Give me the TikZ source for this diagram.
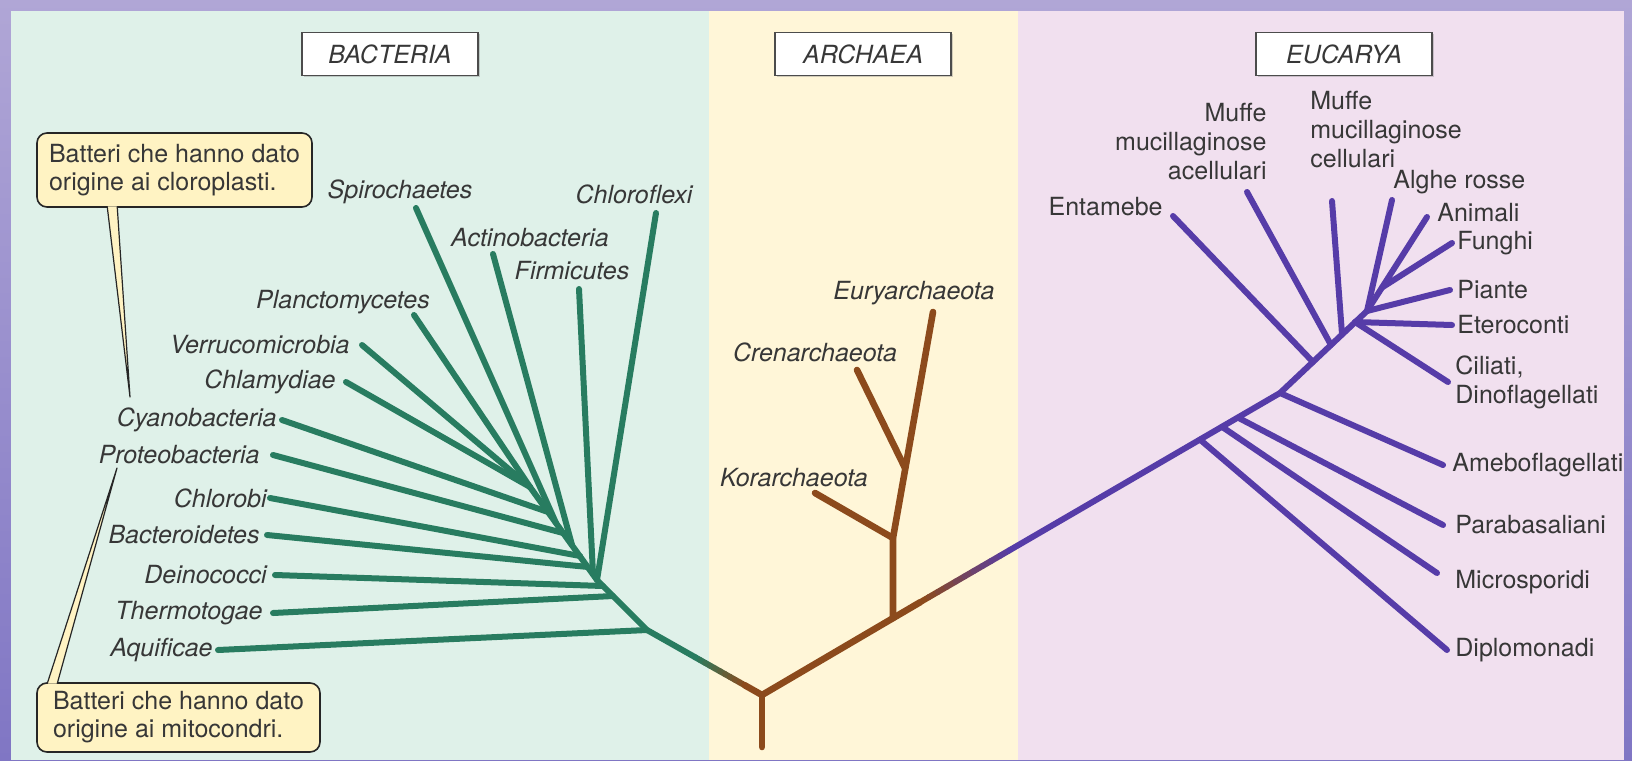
\documentclass[tikz,border=0pt]{standalone}
\usepackage{fontspec}
\setmainfont{TeX Gyre Heros}
\usetikzlibrary{positioning,calc,shadows}

\definecolor{bactgreen}{RGB}{40,124,96}
\definecolor{archbrown}{RGB}{140,74,28}
\definecolor{eucpurple}{RGB}{86,60,168}
\definecolor{bgframe}{RGB}{128,118,196}
\definecolor{bgframelight}{RGB}{176,166,214}
\definecolor{bactpanel}{RGB}{223,241,233}
\definecolor{archpanel}{RGB}{255,246,216}
\definecolor{eucpanel}{RGB}{241,224,239}
\definecolor{notefill}{RGB}{255,243,195}
\definecolor{labgray}{RGB}{55,55,55}

\tikzset{
  branch/.style={line width=3pt, line cap=round, line join=round},
  bact/.style={branch, draw=bactgreen},
  arch/.style={branch, draw=archbrown, line width=3.3pt},
  euc/.style={branch, draw=eucpurple},
  taxon/.style={inner sep=0pt, text=labgray, font=\fontsize{12.5}{15}\selectfont\itshape},
  group/.style={inner sep=0pt, text=labgray, font=\fontsize{12.5}{14.5}\selectfont},
  domainbox/.style={draw=black!70, fill=white, line width=0.9pt, minimum width=88pt, minimum height=21.5pt,
    text=labgray, font=\fontsize{12.5}{15}\selectfont\itshape,
    drop shadow={shadow xshift=0.8pt, shadow yshift=-0.8pt, opacity=0.35}},
  note/.style={draw=black!85, fill=notefill, line width=0.8pt, rounded corners=5pt, align=left,
    inner xsep=5pt, text=labgray, font=\fontsize{12.5}{14}\selectfont},
  pointer/.style={draw=black!85, line width=0.6pt, line join=round},
}

\begin{document}
\begin{tikzpicture}[x=0.5pt, y=-0.5pt]
\useasboundingbox (0,0) rectangle (1632,760);
% sfondo e pannelli dei tre domini
\shade[top color=bgframelight, bottom color=bgframe] (0,0) rectangle (1632,760);
\fill[bactpanel] (11,11) rectangle (709,760);
\fill[archpanel] (709,11) rectangle (1018,760);
\fill[eucpanel] (1018,11) rectangle (1624,760);

\node[domainbox] (bacteria) at (390,54) {BACTERIA};
\node[domainbox] (archaea) at (863,54) {ARCHAEA};
\node[domainbox] (eucarya) at (1344,54) {EUCARYA};

% radice e nodi interni
\coordinate (base) at (762,747);
\coordinate (r) at (762,695);
\coordinate (b0) at (530,487);
\coordinate (bCy) at (548,512);
\coordinate (bSp) at (556,523);
\coordinate (bPr) at (563,533);
\coordinate (bAc) at (572,545);
\coordinate (bCb) at (580,556);
\coordinate (bBa) at (588,567);
\coordinate (bFi) at (593,574);
\coordinate (bCf) at (597,580);
\coordinate (bDe) at (603,586);
\coordinate (bTh) at (613,596);
\coordinate (bAq) at (647,630);
\coordinate (a0) at (893,618);
\coordinate (a1) at (893,538);
\coordinate (a2) at (905,468);
\coordinate (e1) at (1200,439.6);
\coordinate (e2) at (1222,426.8);
\coordinate (e3) at (1238,417.6);
\coordinate (e4) at (1280,393);
\coordinate (e5) at (1313,362);
\coordinate (e6) at (1331,345);
\coordinate (e7) at (1342,334);
\coordinate (e8) at (1355,322);
\coordinate (e9) at (1367,311);

% estremi dei rami
\coordinate (tAqui) at (218,650);
\coordinate (tTherm) at (273,613);
\coordinate (tDeino) at (275,575);
\coordinate (tBacte) at (267,535);
\coordinate (tChlorobi) at (270,498);
\coordinate (tProteo) at (273,455);
\coordinate (tCyano) at (282,420);
\coordinate (tChlamy) at (346,382);
\coordinate (tVerru) at (362,345);
\coordinate (tPlancto) at (414,315);
\coordinate (tSpiro) at (416,208);
\coordinate (tActino) at (493,254);
\coordinate (tFirmi) at (579,289);
\coordinate (tChlorofl) at (656,213);
\coordinate (tEury) at (933,312);
\coordinate (tCren) at (857,370);
\coordinate (tKor) at (815,493);
\coordinate (tEntam) at (1173,216);
\coordinate (tMacell) at (1247,192);
\coordinate (tMcell) at (1332,201);
\coordinate (tAlghe) at (1392,200);
\coordinate (tAnim) at (1427,217);
\coordinate (tFunghi) at (1452,243);
\coordinate (tPiante) at (1450,290);
\coordinate (tEtero) at (1452,325);
\coordinate (tCiliati) at (1448,382);
\coordinate (tAmebo) at (1443,465);
\coordinate (tPara) at (1443,525);
\coordinate (tMicro) at (1437,573);
\coordinate (tDiplo) at (1447,650);
\coordinate (fA) at ($(tAnim)!0.75!(e9)$);

% Bacteria
\draw[bact] (b0) -- (bCf) -- (bAq) -- ($(bAq)!0.42!(r)$);
\foreach \t/\j in {tAqui/bAq, tTherm/bTh, tDeino/bDe, tBacte/bBa, tChlorobi/bCb, tProteo/bPr,
    tCyano/bCy, tChlamy/b0, tVerru/b0, tPlancto/b0, tSpiro/bSp, tActino/bAc, tFirmi/bFi, tChlorofl/bCf}
  \draw[bact] (\t) -- (\j);
% passaggio di colore verde -> marrone
\foreach \k in {0,...,9}{
  \pgfmathsetmacro{\ta}{0.42+\k*0.043}
  \pgfmathsetmacro{\tb}{0.42+(\k+1)*0.043}
  \pgfmathtruncatemacro{\pct}{100-\k*10}
  \draw[branch, draw=bactgreen!\pct!archbrown] ($(bAq)!\ta!(r)$) -- ($(bAq)!\tb!(r)$);
}

% Archaea
\draw[arch] ($(bAq)!0.85!(r)$) -- (r) -- ($(a0)!0.07!(e4)$);
\draw[arch] (base) -- (r);
\draw[arch] (a0) -- (a1) -- (tEury);
\draw[arch] (a1) -- (tKor);
\draw[arch] (a2) -- (tCren);
% passaggio di colore marrone -> viola
\foreach \k in {0,...,9}{
  \pgfmathsetmacro{\ta}{0.07+\k*0.023}
  \pgfmathsetmacro{\tb}{0.07+(\k+1)*0.023}
  \pgfmathtruncatemacro{\pct}{100-\k*10}
  \draw[branch, draw=archbrown!\pct!eucpurple] ($(a0)!\ta!(e4)$) -- ($(a0)!\tb!(e4)$);
}

% Eucarya
\draw[euc] ($(a0)!0.30!(e4)$) -- (e4) -- (e9);
\foreach \t/\j in {tDiplo/e1, tMicro/e2, tPara/e3, tAmebo/e4, tEntam/e5, tMacell/e6, tMcell/e7,
    tEtero/e8, tCiliati/e8, tPiante/e9, tAnim/e9, tAlghe/e9, tFunghi/fA}
  \draw[euc] (\t) -- (\j);

% etichette
\node[taxon, left=2.5pt of tAqui] (lAqui) {Aquificae};
\node[taxon, left=5pt of tTherm] (lTherm) {Thermotogae};
\node[taxon, left=4pt of tDeino] (lDeino) {Deinococci};
\node[taxon, left=3.5pt of tBacte] (lBacte) {Bacteroidetes};
\node[taxon, left=1.5pt of tChlorobi] (lChlorobi) {Chlorobi};
\node[taxon, left=6.5pt of tProteo] (lProteo) {Proteobacteria};
\node[taxon, left=2.5pt of tCyano] (lCyano) {Cyanobacteria};
\node[taxon, left=5pt of tChlamy] (lChlamy) {Chlamydiae};
\node[taxon, left=6pt of tVerru] (lVerru) {Verrucomicrobia};
\node[taxon] (lPlancto) at (343,302) {Planctomycetes};
\node[taxon] (lSpiro) at (400,192) {Spirochaetes};
\node[taxon] (lActino) at (530,238) {Actinobacteria};
\node[taxon] (lFirmi) at (572,271) {Firmicutes};
\node[taxon] (lChlorofl) at (634,194) {Chloroflexi};

\node[taxon] (lEury) at (914,293) {Euryarchaeota};
\node[taxon] (lCren) at (815,352) {Crenarchaeota};
\node[taxon] (lKor) at (794,478) {Korarchaeota};

\node[group, anchor=east] (lEntam) at (1163,207) {Entamebe};
\node[group, anchor=east, align=right] (lMacell) at (1267,142) {Muffe\\mucillaginose\\acellulari};
\node[group, anchor=west, align=left] (lMcell) at (1310,130) {Muffe\\mucillaginose\\cellulari};
\node[group, anchor=west] (lAlghe) at (1393,182) {Alghe rosse};
\node[group, anchor=west] (lAnim) at (1437,213) {Animali};
\node[group, right=2.5pt of tFunghi] (lFunghi) {Funghi};
\node[group, right=3.5pt of tPiante] (lPiante) {Piante};
\node[group, right=2.5pt of tEtero] (lEtero) {Eteroconti};
\node[group, align=left, right=3.5pt of tCiliati] (lCiliati) {Ciliati,\\Dinoflagellati};
\node[group, right=4.5pt of tAmebo] (lAmebo) {Ameboflagellati};
\node[group, right=6pt of tPara] (lPara) {Parabasaliani};
\node[group, anchor=west] (lMicro) at (1455,582) {Microsporidi};
\node[group, right=4pt of tDiplo] (lDiplo) {Diplomonadi};

% riquadri con le note
\node[note, minimum width=137.5pt, minimum height=37pt] (cloro) at (174.5,170)
  {Batteri che hanno dato\\origine ai cloroplasti.};
\node[note, minimum width=141.5pt, minimum height=34.5pt] (mito) at (178.5,717.5)
  {Batteri che hanno dato\\origine ai mitocondri.};
\coordinate (pCyano) at (130,397);
\coordinate (pProteo) at (117,468);
\coordinate (c1) at ($(cloro.south west)+(71,-1.5)$);
\coordinate (c2) at ($(cloro.south west)+(81,-1.5)$);
\coordinate (m1) at ($(mito.north west)+(11,1.5)$);
\coordinate (m2) at ($(mito.north west)+(21,1.5)$);
\fill[notefill] (c1) -- (pCyano) -- (c2) -- cycle;
\draw[pointer] (c1) -- (pCyano) -- (c2);
\fill[notefill] (m1) -- (pProteo) -- (m2) -- cycle;
\draw[pointer] (m1) -- (pProteo) -- (m2);
\end{tikzpicture}
\end{document}
